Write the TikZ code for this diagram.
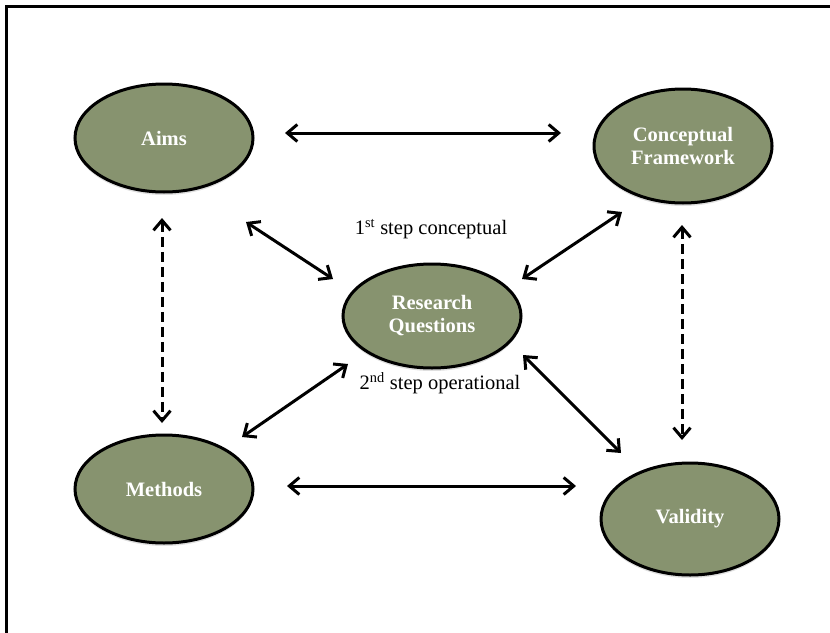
\documentclass[tikz,border=0pt]{standalone}
\usepackage{fontspec}
\setmainfont{Liberation Serif}
\usetikzlibrary{arrows.meta,shadows,shapes.geometric}
\definecolor{olive}{RGB}{135,147,111}
\tikzset{
  bubble/.style={ellipse, draw=black, line width=3pt, fill=olive,
    inner sep=0pt, minimum width=178pt, minimum height=108pt,
    text=white, font=\bfseries\fontsize{20.5}{23}\selectfont, align=center,
    drop shadow={opacity=0.25, shadow xshift=0pt, shadow yshift=-3pt}},
  biarrow/.style={line width=3pt, {Straight Barb[length=10pt,width=17pt]}-{Straight Barb[length=10pt,width=17pt]}},
  dasharrow/.style={biarrow, dash pattern=on 10pt off 5pt},
  steplabel/.style={font=\fontsize{20.5}{23}\selectfont}
}
\begin{document}
\begin{tikzpicture}[x=1pt,y=-1pt]
\useasboundingbox (0,0) rectangle (830,632);
% page frame (top and left edges)
\draw[line width=3pt] (6,640) -- (6,6) -- (840,6);

% the five ellipses
\node[bubble] (aims) at (164,138) {Aims};
\node[bubble, minimum height=114pt] (cf) at (683,146) {Conceptual\\Framework};
\node[bubble, minimum height=104pt] (rq) at (432,316) {Research\\Questions};
\node[bubble] (methods) at (164,489) {Methods};
\node[bubble, minimum height=112pt] (validity) at (690,519) {Validity};

% labels
\node[steplabel] (l1) at (431,229) {1\textsuperscript{st} step conceptual};
\node[steplabel] (l2) at (440,383) {2\textsuperscript{nd} step operational};

% arrow end points
\coordinate (ac1) at (285,133);   \coordinate (ac2) at (561,133);
\coordinate (mv1) at (287,486);   \coordinate (mv2) at (576,486);
\coordinate (ar1) at (246,222);   \coordinate (ar2) at (333,279);
\coordinate (cr1) at (622,212);   \coordinate (cr2) at (522,279);
\coordinate (mr1) at (242,437);   \coordinate (mr2) at (348,364);
\coordinate (rv1) at (523,355);   \coordinate (rv2) at (621,453);
\coordinate (am1) at (162,218);   \coordinate (am2) at (162,423);
\coordinate (cv1) at (682,225);   \coordinate (cv2) at (682,440);

% connectors
\draw[biarrow] (ac1) -- (ac2);
\draw[biarrow] (mv1) -- (mv2);
\draw[biarrow] (ar1) -- (ar2);
\draw[biarrow] (cr1) -- (cr2);
\draw[biarrow] (mr1) -- (mr2);
\draw[biarrow] (rv1) -- (rv2);
\draw[dasharrow] (am1) -- (am2);
\draw[dasharrow] (cv1) -- (cv2);
\end{tikzpicture}
\end{document}
